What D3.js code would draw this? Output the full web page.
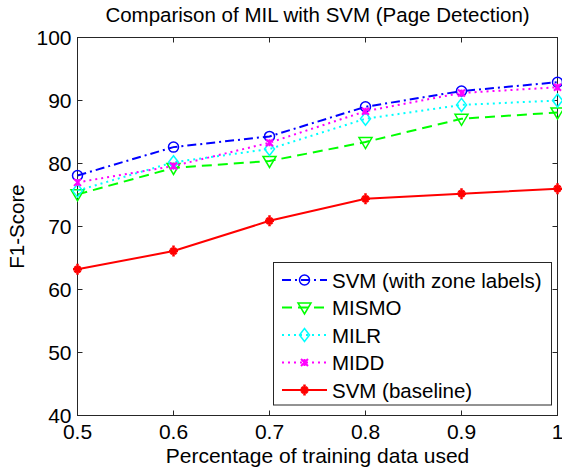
<!DOCTYPE html>
<html>
<head>
<meta charset="utf-8">
<script src="https://cdn.jsdelivr.net/npm/d3@7"></script>
<style>
  body { margin: 0; background: #fff; }
  text { font-family: "Liberation Sans", Arial, sans-serif; fill: #000; }
</style>
</head>
<body>
<div id="chart"></div>
<script>
var xValues = [0.5, 0.6, 0.7, 0.8, 0.9, 1.0];
var svmZone = [78.1, 82.6, 84.3, 89.0, 91.5, 92.9];
var mismo = [75.1, 79.3, 80.4, 83.4, 87.1, 88.1];
var milr = [75.7, 80.2, 82.3, 87.1, 89.3, 90.0];
var midd = [77.0, 79.6, 83.3, 88.3, 91.2, 92.1];
var svmBase = [63.2, 66.1, 70.9, 74.4, 75.2, 76.0];
var xTicks = [0.5, 0.6, 0.7, 0.8, 0.9, 1];
var yTicks = [40, 50, 60, 70, 80, 90, 100];

var series = [
  { name: "SVM (with zone labels)", values: svmZone, color: "#0000ff", dash: "9,4,2,4", marker: "circle" },
  { name: "MISMO", values: mismo, color: "#00ff00", dash: "10,6", marker: "triangle" },
  { name: "MILR", values: milr, color: "#00ffff", dash: "2,4", marker: "diamond" },
  { name: "MIDD", values: midd, color: "#ff00ff", dash: "2,4", marker: "x" },
  { name: "SVM (baseline)", values: svmBase, color: "#ff0000", dash: null, marker: "star" }
];

var width = 562, height = 470;
var plotLeft = 77.5, plotRight = 557.5, plotTop = 37.5, plotBottom = 415.5;

var svg = d3.select("#chart").append("svg")
  .attr("width", width)
  .attr("height", height);

var x = d3.scaleLinear().domain([0.5, 1]).range([plotLeft, plotRight]);
var y = d3.scaleLinear().domain([40, 100]).range([plotBottom, plotTop]);

// axes box + ticks (inward, all four sides)
var axisColor = "#262626";
svg.append("rect")
  .attr("x", plotLeft).attr("y", plotTop)
  .attr("width", plotRight - plotLeft).attr("height", plotBottom - plotTop)
  .attr("fill", "none").attr("stroke", axisColor).attr("stroke-width", 1);

xTicks.forEach(function (t) {
  svg.append("line").attr("x1", x(t)).attr("x2", x(t)).attr("y1", plotBottom).attr("y2", plotBottom - 5)
    .attr("stroke", axisColor);
  svg.append("line").attr("x1", x(t)).attr("x2", x(t)).attr("y1", plotTop).attr("y2", plotTop + 5)
    .attr("stroke", axisColor);
  svg.append("text").attr("x", x(t)).attr("y", plotBottom + 23)
    .attr("text-anchor", "middle").attr("font-size", 21).text(t === 1 ? "1" : t.toFixed(1));
});
yTicks.forEach(function (t) {
  svg.append("line").attr("x1", plotLeft).attr("x2", plotLeft + 5).attr("y1", y(t)).attr("y2", y(t))
    .attr("stroke", axisColor);
  svg.append("line").attr("x1", plotRight).attr("x2", plotRight - 5).attr("y1", y(t)).attr("y2", y(t))
    .attr("stroke", axisColor);
  svg.append("text").attr("x", plotLeft - 6).attr("y", y(t) + 7.5)
    .attr("text-anchor", "end").attr("font-size", 21).text(t);
});

// titles
svg.append("text").attr("x", (plotLeft + plotRight) / 2).attr("y", 22)
  .attr("text-anchor", "middle").attr("font-size", 20.5)
  .text("Comparison of MIL with SVM (Page Detection)");
svg.append("text").attr("x", (plotLeft + plotRight) / 2).attr("y", 463)
  .attr("text-anchor", "middle").attr("font-size", 21)
  .text("Percentage of training data used");
svg.append("text")
  .attr("transform", "translate(24," + ((plotTop + plotBottom) / 2) + ") rotate(-90)")
  .attr("text-anchor", "middle").attr("font-size", 20.5)
  .text("F1-Score");

function drawMarker(g, type, cx, cy, color) {
  if (type === "circle") {
    g.append("circle").attr("cx", cx).attr("cy", cy).attr("r", 5)
      .attr("fill", "none").attr("stroke", color).attr("stroke-width", 1.5);
  } else if (type === "triangle") {
    g.append("path")
      .attr("d", "M" + (cx - 6.5) + "," + (cy - 4.5) + "L" + (cx + 6.5) + "," + (cy - 4.5) + "L" + cx + "," + (cy + 6.5) + "Z")
      .attr("fill", "none").attr("stroke", color).attr("stroke-width", 1.5);
  } else if (type === "diamond") {
    g.append("path")
      .attr("d", "M" + cx + "," + (cy - 6.5) + "L" + (cx + 5) + "," + cy + "L" + cx + "," + (cy + 6.5) + "L" + (cx - 5) + "," + cy + "Z")
      .attr("fill", "none").attr("stroke", color).attr("stroke-width", 1.5);
  } else if (type === "x") {
    var s = 3.5;
    g.append("path")
      .attr("d", "M" + (cx - s) + "," + (cy - s) + "L" + (cx + s) + "," + (cy + s) +
        "M" + (cx - s) + "," + (cy + s) + "L" + (cx + s) + "," + (cy - s) +
        "M" + cx + "," + (cy - s) + "L" + cx + "," + (cy + s))
      .attr("stroke", color).attr("stroke-width", 2);
  } else if (type === "star") {
    var r = 4.5;
    g.append("path")
      .attr("d", "M" + (cx - r) + "," + cy + "L" + (cx + r) + "," + cy +
        "M" + cx + "," + (cy - r - 1) + "L" + cx + "," + (cy + r + 1) +
        "M" + (cx - 3) + "," + (cy - 3) + "L" + (cx + 3) + "," + (cy + 3) +
        "M" + (cx - 3) + "," + (cy + 3) + "L" + (cx + 3) + "," + (cy - 3))
      .attr("stroke", color).attr("stroke-width", 2.5);
  }
}

var line = d3.line()
  .x(function (d, i) { return x(xValues[i]); })
  .y(function (d) { return y(d); });

var plot = svg.append("g");
series.forEach(function (s) {
  plot.append("path")
    .attr("d", line(s.values))
    .attr("fill", "none")
    .attr("stroke", s.color)
    .attr("stroke-width", 2)
    .attr("stroke-dasharray", s.dash);
  s.values.forEach(function (v, i) {
    drawMarker(plot, s.marker, x(xValues[i]), y(v), s.color);
  });
});

// legend
var lg = svg.append("g");
lg.append("rect")
  .attr("x", 273.5).attr("y", 262.5).attr("width", 278).attr("height", 142.5)
  .attr("fill", "#fff").attr("stroke", axisColor).attr("stroke-width", 1);
series.forEach(function (s, i) {
  var ly = 280 + i * 27.5;
  lg.append("line").attr("x1", 282).attr("x2", 327).attr("y1", ly).attr("y2", ly)
    .attr("stroke", s.color).attr("stroke-width", 2).attr("stroke-dasharray", s.dash);
  drawMarker(lg, s.marker, 304.5, ly, s.color);
  lg.append("text").attr("x", 332).attr("y", ly + 7.5)
    .attr("font-size", 20.5).text(s.name);
});
</script>
</body>
</html>
